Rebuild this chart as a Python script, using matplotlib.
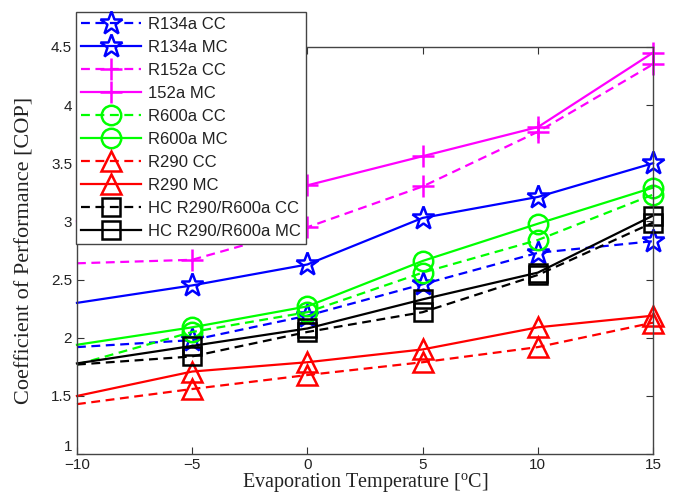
import matplotlib.pyplot as plt

plt.rcParams['mathtext.fontset'] = 'custom'
plt.rcParams['mathtext.rm'] = 'Liberation Serif'

# Data
temps = [-10, -5, 0, 5, 10, 15]

r134a_cc = [1.92, 1.98, 2.19, 2.46, 2.73, 2.83]
r134a_mc = [2.30, 2.45, 2.63, 3.03, 3.21, 3.50]
r152a_cc = [2.64, 2.67, 2.95, 3.30, 3.77, 4.35]
r152a_mc = [3.00, 3.10, 3.31, 3.56, 3.81, 4.45]
r600a_cc = [1.77, 2.05, 2.22, 2.56, 2.84, 3.23]
r600a_mc = [1.94, 2.09, 2.27, 2.66, 2.98, 3.29]
r290_cc = [1.43, 1.56, 1.68, 1.79, 1.92, 2.13]
r290_mc = [1.50, 1.71, 1.79, 1.90, 2.09, 2.19]
hc_cc = [1.77, 1.84, 2.05, 2.22, 2.54, 2.99]
hc_mc = [1.78, 1.93, 2.08, 2.33, 2.56, 3.05]

series = [
    ("R134a CC", r134a_cc, "#0000ff", "*", "--"),
    ("R134a MC", r134a_mc, "#0000ff", "*", "-"),
    ("R152a CC", r152a_cc, "#ff00ff", "+", "--"),
    ("152a MC", r152a_mc, "#ff00ff", "+", "-"),
    ("R600a CC", r600a_cc, "#00ff00", "o", "--"),
    ("R600a MC", r600a_mc, "#00ff00", "o", "-"),
    ("R290 CC", r290_cc, "#ff0000", "^", "--"),
    ("R290 MC", r290_mc, "#ff0000", "^", "-"),
    ("HC R290/R600a CC", hc_cc, "#000000", "s", "--"),
    ("HC R290/R600a MC", hc_mc, "#000000", "s", "-"),
]

fig = plt.figure(figsize=(6.81, 4.98), dpi=100)
ax = fig.add_axes([0.113, 0.088, 0.846, 0.818])

sizes = {"*": 17, "+": 16, "o": 14, "^": 14, "s": 13}
for label, vals, color, marker, ls in series:
    style = (0, (4, 2.5)) if ls == "--" else "-"
    # no marker drawn at the first (-10) point, as in the original
    ax.plot(temps, vals, linestyle=style, color=color, lw=1.6,
            marker=marker, markersize=sizes[marker], markerfacecolor="none",
            markeredgecolor=color, markeredgewidth=1.8, label=label,
            markevery=list(range(1, len(temps))), clip_on=False)

ax.set_xlim(-10, 15)
ax.set_ylim(1, 4.5)
ax.set_xticks([-10, -5, 0, 5, 10, 15])
ax.set_yticks([1, 1.5, 2, 2.5, 3, 3.5, 4, 4.5])
ax.set_yticklabels(["1", "1.5", "2", "2.5", "3", "3.5", "4", "4.5"])
ax.tick_params(direction="in", length=5, top=True, right=True, labelsize=11,
               color="#333333", labelcolor="#222222")
ax.tick_params(axis="x", pad=3)
for lab in ax.get_xticklabels() + ax.get_yticklabels():
    lab.set_family("Liberation Sans")
ax.get_yticklabels()[0].set_va("bottom")
for sp in ax.spines.values():
    sp.set_color("#444444")
    sp.set_linewidth(1.0)

ax.set_xlabel(r"Evaporation Temperature [$^{\rm o}$C]", family="Liberation Serif",
              fontsize=14.5, labelpad=-1, color="#222222")
ax.set_ylabel("Coefficient of Performance [COP]", family="Liberation Serif",
              fontsize=16, labelpad=12, color="#222222")

leg = fig.legend(*ax.get_legend_handles_labels(), loc="upper left",
                 bbox_to_anchor=(0.1116, 0.976), bbox_transform=fig.transFigure,
                 prop={"family": "Liberation Sans", "size": 12},
                 fancybox=False, framealpha=1, edgecolor="#444444",
                 handlelength=3.6, handletextpad=0.4, labelspacing=0.48,
                 borderpad=0.3, borderaxespad=0)
leg.get_frame().set_linewidth(1.0)
for t in leg.get_texts():
    t.set_color("#222222")

fig.savefig("out.png", dpi=100)
